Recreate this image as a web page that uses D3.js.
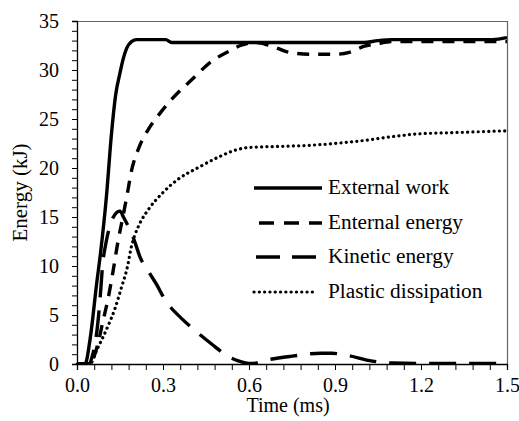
<!DOCTYPE html>
<html><head><meta charset="utf-8">
<script src="https://cdn.jsdelivr.net/npm/d3@7"></script>
<style>
html,body{margin:0;padding:0;background:#fff;}
</style></head>
<body><svg id="chart" width="519" height="421"></svg>
<script>
// ---- data (time in ms, energy in kJ) ----
const seriesNames = ["External work", "Enternal energy", "Kinetic energy", "Plastic dissipation"];
const externalT = [0, 0.028, 0.045, 0.069, 0.082, 0.103, 0.12, 0.135, 0.15, 0.16, 0.173, 0.19, 0.208, 0.31, 0.33, 0.6, 0.9, 1.0, 1.05, 1.1, 1.3, 1.45, 1.5];
const externalE = [0, 0, 2.4, 8.3, 11.3, 17.2, 23.4, 27.5, 29.7, 31.0, 32.2, 32.9, 33.1, 33.1, 32.8, 32.8, 32.8, 32.8, 33.0, 33.1, 33.1, 33.1, 33.3];
const internalT = [0, 0.045, 0.06, 0.075, 0.09, 0.108, 0.126, 0.143, 0.16, 0.175, 0.19, 0.215, 0.25, 0.29, 0.33, 0.4, 0.47, 0.53, 0.57, 0.62, 0.66, 0.7, 0.74, 0.82, 0.9, 0.95, 1.0, 1.05, 1.1, 1.3, 1.5];
const internalE = [0, 0, 0.8, 2.3, 4.3, 6.6, 9.5, 12.5, 15.0, 17.3, 19.7, 22.0, 24.0, 25.6, 27.0, 29.0, 30.9, 31.9, 32.5, 32.8, 32.6, 32.2, 31.8, 31.6, 31.6, 31.8, 32.4, 32.7, 32.9, 32.9, 32.9];
const kineticT = [0, 0.04, 0.055, 0.07, 0.08, 0.09, 0.1, 0.11, 0.125, 0.14, 0.15, 0.162, 0.2, 0.22, 0.25, 0.28, 0.3, 0.37, 0.4, 0.48, 0.52, 0.56, 0.61, 0.66, 0.75, 0.85, 0.89, 0.94, 1.03, 1.1, 1.3, 1.5];
const kineticE = [0, 0, 1.0, 3.5, 6.5, 10.3, 12.2, 13.6, 14.9, 15.5, 15.6, 15.0, 12.6, 10.9, 9.4, 8.0, 6.9, 4.5, 3.7, 1.8, 0.9, 0.35, 0.05, 0.4, 0.8, 1.1, 1.1, 0.9, 0.3, 0.1, 0.05, 0.05];
const plasticT = [0, 0.045, 0.07, 0.09, 0.11, 0.133, 0.155, 0.175, 0.19, 0.2, 0.22, 0.25, 0.3, 0.35, 0.42, 0.5, 0.55, 0.6, 0.7, 0.8, 0.9, 1.0, 1.1, 1.2, 1.3, 1.4, 1.5];
const plasticE = [0, 0, 1.5, 2.7, 4.0, 5.7, 7.8, 9.8, 12.0, 13.0, 14.4, 15.8, 17.5, 18.8, 20.0, 21.2, 21.8, 22.1, 22.2, 22.3, 22.5, 22.8, 23.2, 23.5, 23.6, 23.7, 23.8];
const xMajorTicks = [0, 0.3, 0.6, 0.9, 1.2, 1.5];
const xTickLabels = ["0.0", "0.3", "0.6", "0.9", "1.2", "1.5"];
const yMajorTicks = [0, 5, 10, 15, 20, 25, 30, 35];
const xTitle = "Time (ms)";
const yTitle = "Energy (kJ)";

const FONT = "'Liberation Serif', 'Times New Roman', 'DejaVu Serif', serif";

// ---- layout ----
const svg = d3.select("#chart").attr("font-family", FONT);
const L = 77, R = 507, T = 21, B = 364;
const x = d3.scaleLinear().domain([0, 1.5]).range([L, R]);
const y = d3.scaleLinear().domain([0, 35]).range([B, T]);

// frame (top/right grey)
svg.append("line").attr("x1", L).attr("x2", R + 0.5).attr("y1", T + 0.5).attr("y2", T + 0.5).attr("stroke", "#666").attr("stroke-width", 1.2);
svg.append("line").attr("x1", R + 0.5).attr("x2", R + 0.5).attr("y1", T).attr("y2", B).attr("stroke", "#666").attr("stroke-width", 1.2);

// x axis
const xMinor = d3.range(0, 26).map(i => i * 0.06);
const gx = svg.append("g").attr("transform", `translate(0,${B})`)
  .call(d3.axisBottom(x).tickValues(xMinor).tickSize(6).tickFormat(""));
gx.select(".domain").attr("stroke", "#000").attr("stroke-width", 1.3);
gx.selectAll(".tick line").attr("stroke", "#000").attr("stroke-width", 1);
const gxl = svg.append("g").attr("transform", `translate(0,${B})`)
  .call(d3.axisBottom(x).tickValues(xMajorTicks).tickSize(0).tickPadding(14).tickFormat((d, i) => xTickLabels[i]));
gxl.attr("font-family", FONT).attr("font-size", 20);
gxl.select(".domain").remove();
gxl.selectAll("text").attr("font-family", FONT).attr("font-size", 20).attr("fill", "#000");

// y axis
const yMinor = d3.range(0, 36);
const gy = svg.append("g").attr("transform", `translate(${L},0)`)
  .call(d3.axisLeft(y).tickValues(yMinor).tickSize(5).tickFormat(""));
gy.select(".domain").attr("stroke", "#000").attr("stroke-width", 1.3);
gy.selectAll(".tick line").attr("stroke", "#000").attr("stroke-width", 1);
const gyl = svg.append("g").attr("transform", `translate(${L},0)`)
  .call(d3.axisLeft(y).tickValues(yMajorTicks).tickSize(0).tickPadding(18).tickFormat(d3.format("d")));
gyl.attr("font-family", FONT).attr("font-size", 20);
gyl.select(".domain").remove();
gyl.selectAll("text").attr("font-family", FONT).attr("font-size", 20).attr("fill", "#000");

// titles
svg.append("text").attr("x", 288).attr("y", 412).attr("text-anchor", "middle")
  .attr("font-family", FONT).attr("font-size", 20).attr("fill", "#000").text(xTitle);
svg.append("text").attr("transform", `translate(27,${(T + B) / 2}) rotate(-90)`).attr("text-anchor", "middle")
  .attr("font-family", FONT).attr("font-size", 21).attr("fill", "#000").text(yTitle);

// series
const styles = [
  {dash: null, cap: "butt", w: 3.4},
  {dash: "12,9", cap: "butt", w: 3.4},
  {dash: "27,13", cap: "butt", w: 3.4},
  {dash: "0.1,5.2", cap: "round", w: 3.2}
];
const series = [
  d3.zip(externalT, externalE),
  d3.zip(internalT, internalE),
  d3.zip(kineticT, kineticE),
  d3.zip(plasticT, plasticE)
];
const line = d3.line().x(d => x(d[0])).y(d => y(d[1])).curve(d3.curveMonotoneX);
svg.append("clipPath").attr("id", "clip").append("rect")
  .attr("x", L - 2).attr("y", T - 3).attr("width", R - L + 4).attr("height", B - T + 3);
const plotG = svg.append("g").attr("clip-path", "url(#clip)");
series.forEach((s, i) => {
  plotG.append("path").attr("d", line(s)).attr("fill", "none").attr("stroke", "#000")
    .attr("stroke-width", styles[i].w).attr("stroke-dasharray", styles[i].dash)
    .attr("stroke-linecap", styles[i].cap).attr("stroke-linejoin", "round");
});

// legend
const legY = [188, 223, 257, 292];
const legX1 = 254, legX2 = 322;
seriesNames.forEach((n, i) => {
  svg.append("line").attr("x1", legX1).attr("x2", i === 3 ? 314 : legX2).attr("y1", legY[i]).attr("y2", legY[i])
    .attr("stroke", "#000").attr("stroke-width", styles[i].w)
    .attr("stroke-dasharray", i === 1 ? "15,10" : i === 2 ? "24,12" : styles[i].dash)
    .attr("stroke-dashoffset", i === 1 ? -5 : i === 2 ? -2 : 0)
    .attr("stroke-linecap", styles[i].cap);
  svg.append("text").attr("x", 328).attr("y", legY[i] + 6).attr("font-family", FONT)
    .attr("font-size", 21.3).attr("fill", "#000").text(n);
});
</script></body></html>
